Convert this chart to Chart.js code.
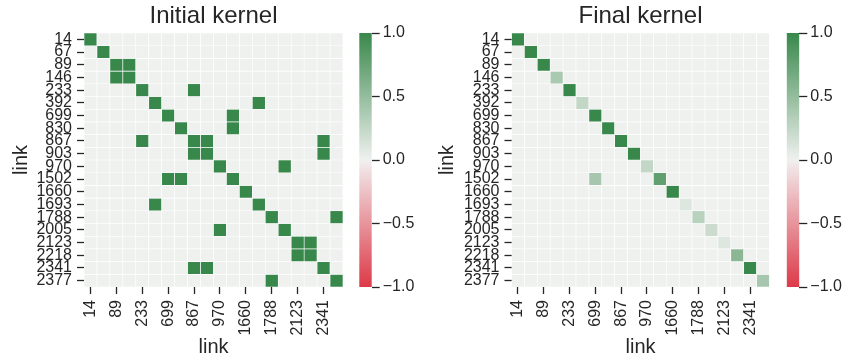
<!DOCTYPE html>
<html><head><meta charset="utf-8">
<script src="https://cdn.jsdelivr.net/npm/chart.js@4/dist/chart.umd.min.js"></script>
<style>
html,body{margin:0;padding:0;background:#fff;}
#wrap{position:relative;width:845px;height:360px;overflow:hidden;background:#fff;}
canvas{position:absolute;top:0;}
</style></head><body>
<div id="wrap">
<canvas id="h1" style="left:0px;width:350px;height:360px" width="350" height="360"></canvas>
<canvas id="c1" style="left:350px;width:95px;height:360px" width="95" height="360"></canvas>
<canvas id="h2" style="left:426px;width:350px;height:360px" width="350" height="360"></canvas>
<canvas id="c2" style="left:777px;width:68px;height:360px" width="68" height="360"></canvas>
</div>
<script>
// ---- data ----
const links = ['14','67','89','146','233','392','699','830','867','903','970','1502','1660','1693','1788','2005','2123','2218','2341','2377'];
const xTickLabels = ['14','89','233','699','867','970','1660','1788','2123','2341'];
const colorbarTicks = [-1, -0.5, 0, 0.5, 1];

const initialKernel = [
  [1,0,0,0,0,0,0,0,0,0,0,0,0,0,0,0,0,0,0,0],
  [0,1,0,0,0,0,0,0,0,0,0,0,0,0,0,0,0,0,0,0],
  [0,0,1,1,0,0,0,0,0,0,0,0,0,0,0,0,0,0,0,0],
  [0,0,1,1,0,0,0,0,0,0,0,0,0,0,0,0,0,0,0,0],
  [0,0,0,0,1,0,0,0,1,0,0,0,0,0,0,0,0,0,0,0],
  [0,0,0,0,0,1,0,0,0,0,0,0,0,1,0,0,0,0,0,0],
  [0,0,0,0,0,0,1,0,0,0,0,1,0,0,0,0,0,0,0,0],
  [0,0,0,0,0,0,0,1,0,0,0,1,0,0,0,0,0,0,0,0],
  [0,0,0,0,1,0,0,0,1,1,0,0,0,0,0,0,0,0,1,0],
  [0,0,0,0,0,0,0,0,1,1,0,0,0,0,0,0,0,0,1,0],
  [0,0,0,0,0,0,0,0,0,0,1,0,0,0,0,1,0,0,0,0],
  [0,0,0,0,0,0,1,1,0,0,0,1,0,0,0,0,0,0,0,0],
  [0,0,0,0,0,0,0,0,0,0,0,0,1,0,0,0,0,0,0,0],
  [0,0,0,0,0,1,0,0,0,0,0,0,0,1,0,0,0,0,0,0],
  [0,0,0,0,0,0,0,0,0,0,0,0,0,0,1,0,0,0,0,1],
  [0,0,0,0,0,0,0,0,0,0,1,0,0,0,0,1,0,0,0,0],
  [0,0,0,0,0,0,0,0,0,0,0,0,0,0,0,0,1,1,0,0],
  [0,0,0,0,0,0,0,0,0,0,0,0,0,0,0,0,1,1,0,0],
  [0,0,0,0,0,0,0,0,1,1,0,0,0,0,0,0,0,0,1,0],
  [0,0,0,0,0,0,0,0,0,0,0,0,0,0,1,0,0,0,0,1]
];

const finalKernel = [
  [1,0,0,0,0,0,0,0,0,0,0,0,0,0,0,0,0,0,0,0],
  [0,1,0,0,0,0,0,0,0,0,0,0,0,0,0,0,0,0,0,0],
  [0,0,1,0,0,0,0,0,0,0,0,0,0,0,0,0,0,0,0,0],
  [0,0,0,0.38,0,0,0,0,0,0,0,0,0,0,0,0,0,0,0,0],
  [0,0,0,0,1,0,0,0,0,0,0,0,0,0,0,0,0,0,0,0],
  [0,0,0,0,0,0.25,0,0,0,0,0,0,0,0,0,0,0,0,0,0],
  [0,0,0,0,0,0,1,0,0,0,0,0,0,0,0,0,0,0,0,0],
  [0,0,0,0,0,0,0,1,0,0,0,0,0,0,0,0,0,0,0,0],
  [0,0,0,0,0,0,0,0,1,0,0,0,0,0,0,0,0,0,0,0],
  [0,0,0,0,0,0,0,0,0,1,0,0,0,0,0,0,0,0,0,0],
  [0,0,0,0,0,0,0,0,0,0,0.25,0,0,0,0,0,0,0,0,0],
  [0,0,0,0,0,0,0.4,0,0,0,0,0.78,0,0,0,0,0,0,0,0],
  [0,0,0,0,0,0,0,0,0,0,0,0,1,0,0,0,0,0,0,0],
  [0,0,0,0,0,0,0,0,0,0,0,0,0,0.1,0,0,0,0,0,0],
  [0,0,0,0,0,0,0,0,0,0,0,0,0,0,0.3,0,0,0,0,0],
  [0,0,0,0,0,0,0,0,0,0,0,0,0,0,0,0.2,0,0,0,0],
  [0,0,0,0,0,0,0,0,0,0,0,0,0,0,0,0,0.1,0,0,0],
  [0,0,0,0,0,0,0,0,0,0,0,0,0,0,0,0,0,0.55,0,0],
  [0,0,0,0,0,0,0,0,0,0,0,0,0,0,0,0,0,0,1,0],
  [0,0,0,0,0,0,0,0,0,0,0,0,0,0,0,0,0,0,0,0.4]
];

// ---- styling ----
const FONT = "'Liberation Sans', Arial, Helvetica, sans-serif";
const INK = '#262626';
Chart.defaults.font.family = FONT;
Chart.defaults.color = INK;

const cmapStops = [
  [-1, [221, 57, 71]],
  [-0.015, [241, 236, 237]],
  [0, [239, 241, 239]],
  [1, [57, 136, 75]]
];
function cmap(v) {
  for (let i = 0; i < cmapStops.length - 1; i++) {
    const [a, ca] = cmapStops[i], [b, cb] = cmapStops[i + 1];
    if (v >= a && v <= b) {
      const t = (v - a) / (b - a);
      const c = ca.map((x, k) => Math.round(x + (cb[k] - x) * t));
      return `rgb(${c[0]},${c[1]},${c[2]})`;
    }
  }
  const c = v < 0 ? cmapStops[0][1] : cmapStops[cmapStops.length - 1][1];
  return `rgb(${c[0]},${c[1]},${c[2]})`;
}

function heatConfig(title, matrix, yWidth, padRight) {
  const datasets = matrix.map((row, r) => ({
    data: row.map(() => [r, r + 1]),
    backgroundColor: row.map(v => cmap(v)),
    borderColor: '#ffffff',
    borderWidth: 0.65,
    borderSkipped: false,
    grouped: false,
    barPercentage: 1,
    categoryPercentage: 1
  }));
  return {
    type: 'bar',
    data: { labels: links, datasets },
    options: {
      responsive: false, animation: false, devicePixelRatio: 1,
      layout: { padding: { left: 0, right: padRight, top: 0, bottom: 0 } },
      plugins: {
        legend: { display: false }, tooltip: { enabled: false },
        title: { display: true, fullSize: false, text: title, color: INK, font: { size: 24, weight: 'normal', family: FONT, lineHeight: 1.2 }, padding: { top: 2, bottom: 2.2 } }
      },
      scales: {
        x: {
          type: 'category', offset: true,
          border: { display: false },
          grid: { display: true, drawOnChartArea: false, offset: false, tickLength: 7, tickWidth: 1.3, tickColor: INK, color: INK },
          ticks: { autoSkip: false, maxRotation: 90, minRotation: 90, padding: 6, color: INK, font: { size: 16, family: FONT } },
          afterBuildTicks: s => { s.ticks = s.ticks.filter(t => xTickLabels.includes(links[t.value])); },
          afterFit: s => { s.height = 73; },
          title: { display: true, text: 'link', color: INK, font: { size: 20, family: FONT }, padding: { top: 0, bottom: 1 } }
        },
        y: {
          type: 'linear', min: 0, max: 20, reverse: true,
          border: { display: false },
          grid: { display: true, drawOnChartArea: false, tickLength: 7, tickWidth: 1.3, tickColor: INK, color: INK },
          ticks: { autoSkip: false, padding: 5, color: INK, font: { size: 16, family: FONT }, callback: v => links[Math.floor(v)] },
          afterBuildTicks: s => { s.ticks = links.map((_, i) => ({ value: i + 0.5 })); },
          afterFit: s => { s.width = yWidth; },
          title: { display: true, text: 'link', color: INK, font: { size: 20, family: FONT }, padding: { top: 9, bottom: 0 } }
        }
      }
    }
  };
}

function colorbarConfig(padLeft, yWidth) {
  return {
    type: 'bar',
    data: {
      labels: [''],
      datasets: [{
        data: [[-1, 1]],
        borderWidth: 0,
        barPercentage: 1, categoryPercentage: 1,
        backgroundColor: c => {
          const ch = c.chart; if (!ch.chartArea) return 'rgba(0,0,0,0)';
          const ys = ch.scales.y;
          const g = ch.ctx.createLinearGradient(0, ys.getPixelForValue(-1), 0, ys.getPixelForValue(1));
          cmapStops.forEach(([v, rgb]) => g.addColorStop((v + 1) / 2, `rgb(${rgb[0]},${rgb[1]},${rgb[2]})`));
          return g;
        }
      }]
    },
    options: {
      responsive: false, animation: false, devicePixelRatio: 1,
      layout: { padding: { left: padLeft, right: 0, top: 33, bottom: 73 } },
      plugins: { legend: { display: false }, tooltip: { enabled: false }, title: { display: false } },
      scales: {
        x: { display: false, offset: true },
        y: {
          position: 'right', min: -1, max: 1,
          border: { display: false },
          grid: { display: true, drawOnChartArea: false, tickLength: 8, tickWidth: 1.3, tickColor: INK, color: INK },
          afterBuildTicks: s => { s.ticks = colorbarTicks.map(v => ({ value: v })); },
          ticks: { autoSkip: false, padding: 3, color: INK, font: { size: 16, family: FONT },
            callback: v => (v < 0 ? '\u2212' : '') + Math.abs(v).toFixed(1) },
          afterFit: s => { s.width = yWidth; }
        }
      }
    }
  };
}

new Chart(document.getElementById('h1'), heatConfig('Initial kernel', initialKernel, 84, 7));
new Chart(document.getElementById('c1'), colorbarConfig(9.3, 73.3));
new Chart(document.getElementById('h2'), heatConfig('Final kernel', finalKernel, 85.5, 6.5));
new Chart(document.getElementById('c2'), colorbarConfig(9.7, 45.7));
</script>
</body></html>
